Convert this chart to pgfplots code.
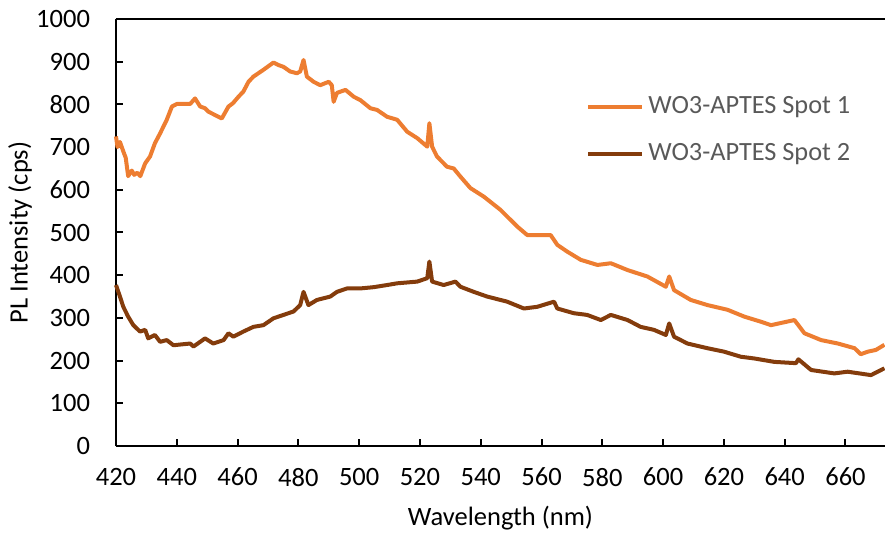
\documentclass[border=0pt]{standalone}
\usepackage{fontspec}
\setmainfont{Carlito}
\usepackage{pgfplots}
\pgfplotsset{compat=1.18}
\definecolor{spotA}{HTML}{ED7D31}
\definecolor{spotB}{HTML}{843C0C}
\definecolor{legtext}{HTML}{595959}

\begin{document}
\begin{tikzpicture}
% frame of the whole chart area, axis box sits at (0,0)
\useasboundingbox (-58bp,-43.5bp) rectangle (384.5bp,223bp);
\begin{axis}[
    at={(0,0)}, anchor=south west,
    scale only axis,
    width=384.5bp, height=213.5bp,
    xmin=420, xmax=673,
    ymin=0, ymax=1000,
    xtick={420,440,...,660},
    ytick={0,100,...,1000},
    axis x line=bottom, axis y line=left,
    axis line style={-, line width=1.3bp, black},
    tick align=inside,
    major tick length=3.5bp,
    tick style={line width=1bp, black},
    font=\fontsize{13.3}{16}\selectfont,
    /pgf/number format/assume math mode=true,
    /pgf/number format/1000 sep={},
    xticklabel style={yshift=-7.5bp},
    yticklabel style={xshift=-9.5bp},
    xlabel={Wavelength (nm)},
    ylabel={PL Intensity (cps)},
    xlabel style={at={(axis description cs:0.5,-0.1686)}, anchor=center},
    ylabel style={at={(axis description cs:-0.1248,0.5)}, anchor=center},
    legend style={draw=none, fill=none, text=legtext,
        at={(rel axis cs:0.6034,0.838)}, anchor=north west,
        row sep=9.5bp, font=\fontsize{13.2}{16}\selectfont},
    legend cell align=left,
    legend image code/.code={\draw[#1] (0bp,0bp) -- (27bp,0bp);},
    clip=false,
    after end axis/.code={\draw[line width=1.3bp, black] (rel axis cs:0,1) -- (rel axis cs:1,1);},
]
\addplot[spotA, line width=2bp, line join=round] coordinates {
(420,725)(420.5,700)(421.3,712)(422.4,690)(423.2,675)(424,632)(425.2,645)(426,635)(427,640)(428,632)
(429.6,662)(431.2,678)(432.8,709)(434.5,732)(436.7,764)(438.4,795)(440,801)(444.4,801)(446,814)(447.7,795)
(449.3,791)(450.4,783)(452.6,775)(454.8,767)(457,795)(458.5,803)(460.3,818)(461.9,830)(463.6,853)(465.2,865)
(468.5,881)(471.8,898)(473.5,892)(475.1,888)(477.3,877)(479.5,873)(480.6,877)(481.7,904)(482.8,865)(485,853)
(487.2,845)(490,853)(491,845)(491.6,806)(492.7,827)(495.5,834)(498.2,818)(500.4,810)(503.7,791)(505.9,787)
(509.2,771)(512.5,764)(515.8,736)(519.1,721)(522.4,701)(523.1,756)(524,701)(525.6,678)(528.9,654)(531.1,650)
(533.3,631)(536.6,604)(541,584)(546.5,553)(552,514)(555.3,494)(563,494)(565.2,471)(568.5,455)(572.9,436)
(578.4,424)(582.8,428)(588.3,412)(594.8,397)(600.9,373)(602,397)(603.6,365)(609.1,342)(614.6,330)(621.2,319)
(626.7,303)(632.2,291)(635.5,283)(643.2,295)(646.5,264)(652,248)(657.5,240)(663,229)(665,215)(667.4,221)
(670,225)(672.8,237)
};
\addlegendentry{WO3-APTES Spot 1}
\addplot[spotB, line width=2bp, line join=round] coordinates {
(420,377)(421.3,350)(422.4,326)(424,303)(425.7,283)(427.9,268)(429.6,272)(430.6,252)(432.8,260)(434.5,244)
(436.7,248)(438.9,236)(444.4,240)(445.5,233)(447.7,244)(449.3,252)(452,240)(455.4,248)(457,264)(458.6,256)
(461.9,268)(465.2,279)(468.5,283)(471.8,299)(475.1,307)(478.4,315)(480.6,330)(481.7,361)(483.3,330)(486.1,342)
(490.5,350)(492.7,361)(496,369)(500.4,369)(504.8,372)(509.2,377)(512.5,381)(519.1,385)(522.4,393)(523.1,432)
(524,385)(527.8,377)(531.7,385)(533.3,373)(537.7,361)(542.1,350)(548.7,338)(554.2,322)(558.6,326)(564.1,338)
(565.2,322)(570.6,311)(575,307)(579.5,295)(582.8,307)(588.3,295)(592.6,279)(597,272)(600.9,260)(602,287)
(603.6,256)(608,240)(614.6,229)(620,221)(625.6,209)(630,205)(636.6,197)(643.7,194)(644.5,203)(648.7,178)
(656.3,170)(660.7,174)(668.4,166)(672.8,182)
};
\addlegendentry{WO3-APTES Spot 2}
\end{axis}
\end{tikzpicture}
\end{document}
